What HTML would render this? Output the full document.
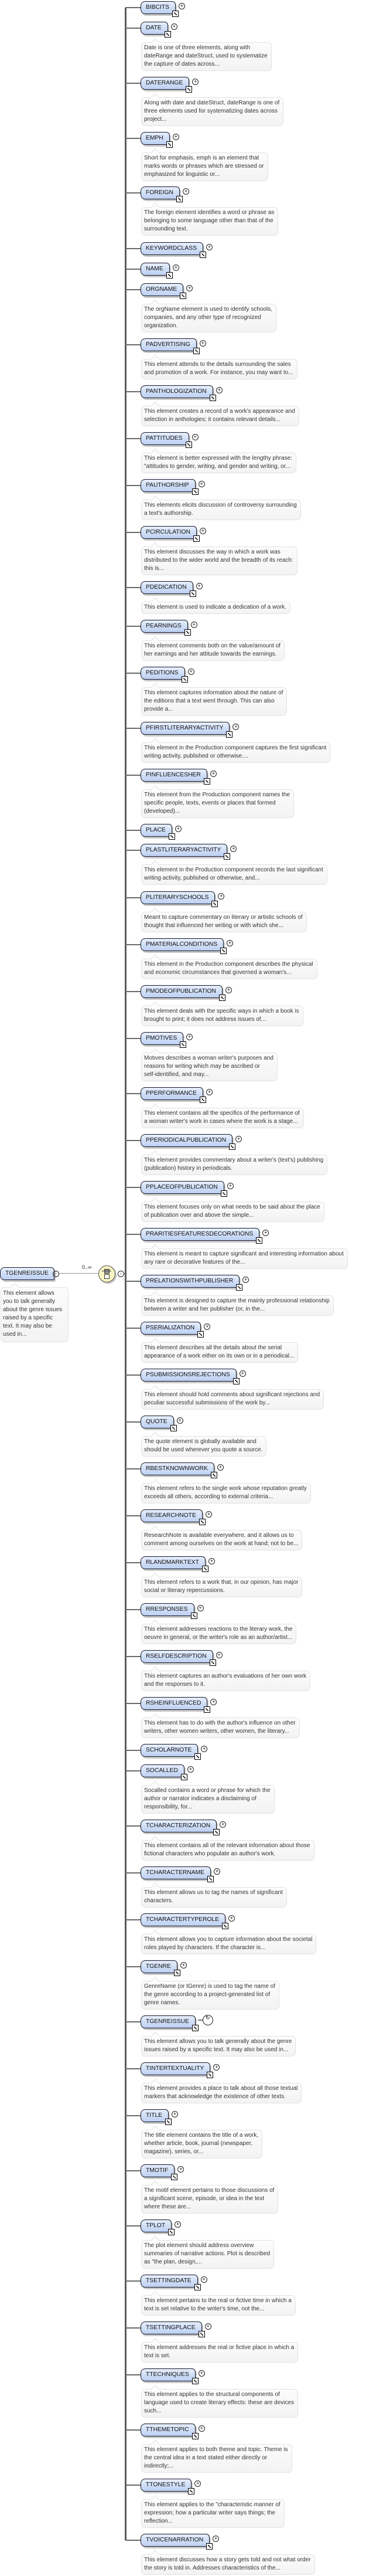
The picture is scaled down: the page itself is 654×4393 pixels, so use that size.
<!DOCTYPE html>
<html><head><meta charset="utf-8">
<style>
body{margin:0;background:#fff;width:654px;height:4393px;position:relative;overflow:hidden;font-family:"Liberation Sans",sans-serif;}
.v{position:absolute;left:213px;top:13px;width:3px;height:4319px;background:#5a5a5a;}
.it{position:absolute;left:214px;width:0;height:0;}
.h{position:absolute;left:0;top:-1px;width:27px;height:2px;background:#6a6a6a;}
.e{position:absolute;left:26px;top:-11px;height:20px;line-height:20px;padding:0 10px 0 8px;font-size:10.3px;color:#111;white-space:nowrap;
border:1px solid #1a1a2a;border-radius:8px 6px 2px 8px;background:linear-gradient(#e6eefc,#bcd0f2);box-shadow:2px 3px 0 #c8c8c8;}
.e i{position:absolute;right:-6px;bottom:-6px;width:9px;height:9px;border:1px solid #000;background:#fff;}
.e i:after{content:"";position:absolute;left:2px;top:2px;width:5px;height:5px;background:linear-gradient(135deg,transparent 40%,#000 40%,#000 60%,transparent 60%);transform:rotate(-90deg);}
.e b{position:absolute;right:-17px;top:2px;width:9px;height:9px;border:1px solid #222;border-radius:50%;background:#fff;font-weight:normal;font-size:9px;line-height:9px;text-align:center;color:#000;}
.d{position:absolute;left:27px;top:24px;padding:2px 6px 3px 4px;font-size:10px;line-height:14px;color:#333;white-space:nowrap;
background:linear-gradient(#fcfcfc,#f3f3f3);border:1px solid #e2e2e2;border-radius:7px;}
.d:before{content:"";position:absolute;left:18px;top:-6px;width:9px;height:9px;background:#fcfcfc;border-left:1px solid #e2e2e2;border-top:1px solid #e2e2e2;transform:rotate(45deg);}
</style></head><body>
<div class="v"></div>

<!-- root -->
<div style="position:absolute;left:0;top:2161px;height:20px;line-height:20px;padding:0 9px 0 8px;font-size:10.3px;border:1px solid #1a1a2a;border-radius:8px 6px 2px 8px;background:linear-gradient(#e6eefc,#bcd0f2);box-shadow:2px 3px 0 #c8c8c8;color:#111;">TGENREISSUE</div>
<div style="position:absolute;left:90px;top:2167px;width:9px;height:9px;border:1px solid #222;border-radius:50%;font-size:9px;line-height:8px;text-align:center;">-</div>
<div style="position:absolute;left:101px;top:2171px;width:67px;height:1px;background:#999;"></div>
<div style="position:absolute;left:140px;top:2156px;font-size:9px;color:#222;">0..∞</div>
<div style="position:absolute;left:168px;top:2158px;width:27px;height:27px;border-radius:50%;background:#fbf6c4;border:1px solid #555;box-shadow:2px 2px 2px #bbb;"></div>
<div style="position:absolute;left:178px;top:2164px;width:7px;height:6px;background:#999;border:1px solid #333;"></div>
<div style="position:absolute;left:178px;top:2173px;width:7px;height:6px;background:#fff;border:1px solid #333;"></div>
<div style="position:absolute;left:174px;top:2167px;width:16px;height:1px;background:#333;"></div>
<div style="position:absolute;left:201px;top:2167px;width:9px;height:9px;border:1px solid #222;border-radius:50%;font-size:9px;line-height:8px;text-align:center;background:#fff;">-</div>
<div style="position:absolute;left:211px;top:2171px;width:3px;height:2px;background:#666;"></div>
<div class="d" style="left:1px;top:2195px;width:106px;white-space:normal;line-height:14px;padding:3px 5px 5px 3px;">This element allows<br>you to talk generally<br>about the genre issues<br>raised by a specific<br>text. It may also be<br>used in...</div>

<div class="it" style="top:13px"><div class="h"></div><div class="e">BIBCITS<i></i><b>+</b></div></div>
<div class="it" style="top:48px"><div class="h"></div><div class="e">DATE<i></i><b>+</b></div><div class="d">Date is one of three elements, along with<br>dateRange and dateStruct, used to systematize<br>the capture of dates across...</div></div>
<div class="it" style="top:142px"><div class="h"></div><div class="e">DATERANGE<i></i><b>+</b></div><div class="d">Along with date and dateStruct, dateRange is one of<br>three elements used for systematizing dates across<br>project...</div></div>
<div class="it" style="top:236px"><div class="h"></div><div class="e">EMPH<i></i><b>+</b></div><div class="d">Short for emphasis, emph is an element that<br>marks words or phrases which are stressed or<br>emphasized for linguistic or...</div></div>
<div class="it" style="top:329px"><div class="h"></div><div class="e">FOREIGN<i></i><b>+</b></div><div class="d">The foreign element identifies a word or phrase as<br>belonging to some language other than that of the<br>surrounding text.</div></div>
<div class="it" style="top:424px"><div class="h"></div><div class="e">KEYWORDCLASS<i></i><b>+</b></div></div>
<div class="it" style="top:459px"><div class="h"></div><div class="e">NAME<i></i><b>+</b></div></div>
<div class="it" style="top:494px"><div class="h"></div><div class="e">ORGNAME<i></i><b>+</b></div><div class="d">The orgName element is used to identify schools,<br>companies, and any other type of recognized<br>organization.</div></div>
<div class="it" style="top:588px"><div class="h"></div><div class="e">PADVERTISING<i></i><b>+</b></div><div class="d">This element attends to the details surrounding the sales<br>and promotion of a work. For instance, you may want to...</div></div>
<div class="it" style="top:668px"><div class="h"></div><div class="e">PANTHOLOGIZATION<i></i><b>+</b></div><div class="d">This element creates a record of a work's appearance and<br>selection in anthologies; it contains relevant details...</div></div>
<div class="it" style="top:748px"><div class="h"></div><div class="e">PATTITUDES<i></i><b>+</b></div><div class="d">This element is better expressed with the lengthy phrase:<br>"attitudes to gender, writing, and gender and writing, or...</div></div>
<div class="it" style="top:828px"><div class="h"></div><div class="e">PAUTHORSHIP<i></i><b>+</b></div><div class="d">This elements elicits discussion of controversy surrounding<br>a text's authorship.</div></div>
<div class="it" style="top:908px"><div class="h"></div><div class="e">PCIRCULATION<i></i><b>+</b></div><div class="d">This element discusses the way in which a work was<br>distributed to the wider world and the breadth of its reach:<br>this is...</div></div>
<div class="it" style="top:1002px"><div class="h"></div><div class="e">PDEDICATION<i></i><b>+</b></div><div class="d">This element is used to indicate a dedication of a work.</div></div>
<div class="it" style="top:1068px"><div class="h"></div><div class="e">PEARNINGS<i></i><b>+</b></div><div class="d">This element comments both on the value/amount of<br>her earnings and her attitude towards the earnings.</div></div>
<div class="it" style="top:1148px"><div class="h"></div><div class="e">PEDITIONS<i></i><b>+</b></div><div class="d">This element captures information about the nature of<br>the editions that a text went through. This can also<br>provide a...</div></div>
<div class="it" style="top:1242px"><div class="h"></div><div class="e">PFIRSTLITERARYACTIVITY<i></i><b>+</b></div><div class="d">This element in the Production component captures the first significant<br>writing activity, published or otherwise....</div></div>
<div class="it" style="top:1322px"><div class="h"></div><div class="e">PINFLUENCESHER<i></i><b>+</b></div><div class="d">This element from the Production component names the<br>specific people, texts, events or places that formed<br>(developed)...</div></div>
<div class="it" style="top:1416px"><div class="h"></div><div class="e">PLACE<i></i><b>+</b></div></div>
<div class="it" style="top:1450px"><div class="h"></div><div class="e">PLASTLITERARYACTIVITY<i></i><b>+</b></div><div class="d">This element in the Production component records the last significant<br>writing activity, published or otherwise, and...</div></div>
<div class="it" style="top:1531px"><div class="h"></div><div class="e">PLITERARYSCHOOLS<i></i><b>+</b></div><div class="d">Meant to capture commentary on literary or artistic schools of<br>thought that influenced her writing or with which she...</div></div>
<div class="it" style="top:1611px"><div class="h"></div><div class="e">PMATERIALCONDITIONS<i></i><b>+</b></div><div class="d">This element in the Production component describes the physical<br>and economic circumstances that governed a woman's...</div></div>
<div class="it" style="top:1691px"><div class="h"></div><div class="e">PMODEOFPUBLICATION<i></i><b>+</b></div><div class="d">This element deals with the specific ways in which a book is<br>brought to print; it does not address issues of...</div></div>
<div class="it" style="top:1771px"><div class="h"></div><div class="e">PMOTIVES<i></i><b>+</b></div><div class="d">Motives describes a woman writer's purposes and<br>reasons for writing which may be ascribed or<br>self-identified, and may...</div></div>
<div class="it" style="top:1865px"><div class="h"></div><div class="e">PPERFORMANCE<i></i><b>+</b></div><div class="d">This element contains all the specifics of the performance of<br>a woman writer's work in cases where the work is a stage...</div></div>
<div class="it" style="top:1945px"><div class="h"></div><div class="e">PPERIODICALPUBLICATION<i></i><b>+</b></div><div class="d">This element provides commentary about a writer's (text's) publishing<br>(publication) history in periodicals.</div></div>
<div class="it" style="top:2025px"><div class="h"></div><div class="e">PPLACEOFPUBLICATION<i></i><b>+</b></div><div class="d">This element focuses only on what needs to be said about the place<br>of publication over and above the simple...</div></div>
<div class="it" style="top:2105px"><div class="h"></div><div class="e">PRARITIESFEATURESDECORATIONS<i></i><b>+</b></div><div class="d">This element is meant to capture significant and interesting information about<br>any rare or decorative features of the...</div></div>
<div class="it" style="top:2185px"><div class="h"></div><div class="e">PRELATIONSWITHPUBLISHER<i></i><b>+</b></div><div class="d">This element is designed to capture the mainly professional relationship<br>between a writer and her publisher (or, in the...</div></div>
<div class="it" style="top:2265px"><div class="h"></div><div class="e">PSERIALIZATION<i></i><b>+</b></div><div class="d">This element describes all the details about the serial<br>appearance of a work either on its own or in a periodical...</div></div>
<div class="it" style="top:2345px"><div class="h"></div><div class="e">PSUBMISSIONSREJECTIONS<i></i><b>+</b></div><div class="d">This element should hold comments about significant rejections and<br>peculiar successful submissions of the work by...</div></div>
<div class="it" style="top:2425px"><div class="h"></div><div class="e">QUOTE<i></i><b>+</b></div><div class="d">The quote element is globally available and<br>should be used wherever you quote a source.</div></div>
<div class="it" style="top:2505px"><div class="h"></div><div class="e">RBESTKNOWNWORK<i></i><b>+</b></div><div class="d">This element refers to the single work whose reputation greatly<br>exceeds all others, according to external criteria...</div></div>
<div class="it" style="top:2585px"><div class="h"></div><div class="e">RESEARCHNOTE<i></i><b>+</b></div><div class="d">ResearchNote is available everywhere, and it allows us to<br>comment among ourselves on the work at hand; not to be...</div></div>
<div class="it" style="top:2665px"><div class="h"></div><div class="e">RLANDMARKTEXT<i></i><b>+</b></div><div class="d">This element refers to a work that, in our opinion, has major<br>social or literary repercussions.</div></div>
<div class="it" style="top:2745px"><div class="h"></div><div class="e">RRESPONSES<i></i><b>+</b></div><div class="d">This element addresses reactions to the literary work, the<br>oeuvre in general, or the writer's role as an author/artist...</div></div>
<div class="it" style="top:2825px"><div class="h"></div><div class="e">RSELFDESCRIPTION<i></i><b>+</b></div><div class="d">This element captures an author's evaluations of her own work<br>and the responses to it.</div></div>
<div class="it" style="top:2905px"><div class="h"></div><div class="e">RSHEINFLUENCED<i></i><b>+</b></div><div class="d">This element has to do with the author's influence on other<br>writers, other women writers, other women, the literary...</div></div>
<div class="it" style="top:2985px"><div class="h"></div><div class="e">SCHOLARNOTE<i></i><b>+</b></div></div>
<div class="it" style="top:3020px"><div class="h"></div><div class="e">SOCALLED<i></i><b>+</b></div><div class="d">Socalled contains a word or phrase for which the<br>author or narrator indicates a disclaiming of<br>responsibility, for...</div></div>
<div class="it" style="top:3114px"><div class="h"></div><div class="e">TCHARACTERIZATION<i></i><b>+</b></div><div class="d">This element contains all of the relevant information about those<br>fictional characters who populate an author's work.</div></div>
<div class="it" style="top:3194px"><div class="h"></div><div class="e">TCHARACTERNAME<i></i><b>+</b></div><div class="d">This element allows us to tag the names of significant<br>characters.</div></div>
<div class="it" style="top:3274px"><div class="h"></div><div class="e">TCHARACTERTYPEROLE<i></i><b>+</b></div><div class="d">This element allows you to capture information about the societal<br>roles played by characters. If the character is...</div></div>
<div class="it" style="top:3354px"><div class="h"></div><div class="e">TGENRE<i></i><b>+</b></div><div class="d">GenreName (or tGenre) is used to tag the name of<br>the genre according to a project-generated list of<br>genre names.</div></div>
<div class="it" style="top:3448px"><div class="h"></div><div class="e">TGENREISSUE<i></i><b style="right:-31px;width:16px;height:16px;top:-2px;">↻</b><span style="position:absolute;right:-14px;top:6px;width:8px;border-top:2px dotted #333;"></span></div><div class="d">This element allows you to talk generally about the genre<br>issues raised by a specific text. It may also be used in...</div></div>
<div class="it" style="top:3528px"><div class="h"></div><div class="e">TINTERTEXTUALITY<i></i><b>+</b></div><div class="d">This element provides a place to talk about all those textual<br>markers that acknowledge the existence of other texts.</div></div>
<div class="it" style="top:3608px"><div class="h"></div><div class="e">TITLE<i></i><b>+</b></div><div class="d">The title element contains the title of a work,<br>whether article, book, journal (newspaper,<br>magazine), series, or...</div></div>
<div class="it" style="top:3702px"><div class="h"></div><div class="e">TMOTIF<i></i><b>+</b></div><div class="d">The motif element pertains to those discussions of<br>a significant scene, episode, or idea in the text<br>where these are...</div></div>
<div class="it" style="top:3796px"><div class="h"></div><div class="e">TPLOT<i></i><b>+</b></div><div class="d">The plot element should address overview<br>summaries of narrative actions. Plot is described<br>as "the plan, design,...</div></div>
<div class="it" style="top:3890px"><div class="h"></div><div class="e">TSETTINGDATE<i></i><b>+</b></div><div class="d">This element pertains to the real or fictive time in which a<br>text is set relative to the writer's time, not the...</div></div>
<div class="it" style="top:3970px"><div class="h"></div><div class="e">TSETTINGPLACE<i></i><b>+</b></div><div class="d">This element addresses the real or fictive place in which a<br>text is set.</div></div>
<div class="it" style="top:4050px"><div class="h"></div><div class="e">TTECHNIQUES<i></i><b>+</b></div><div class="d">This element applies to the structural components of<br>language used to create literary effects: these are devices<br>such...</div></div>
<div class="it" style="top:4144px"><div class="h"></div><div class="e">TTHEMETOPIC<i></i><b>+</b></div><div class="d">This element applies to both theme and topic. Theme is<br>the central idea in a text stated either directly or<br>indirectly;...</div></div>
<div class="it" style="top:4238px"><div class="h"></div><div class="e">TTONESTYLE<i></i><b>+</b></div><div class="d">This element applies to the "characteristic manner of<br>expression; how a particular writer says things; the<br>reflection...</div></div>
<div class="it" style="top:4332px"><div class="h"></div><div class="e">TVOICENARRATION<i></i><b>+</b></div><div class="d">This element discusses how a story gets told and not what order<br>the story is told in. Addresses characteristics of the...</div></div>
</body></html>
